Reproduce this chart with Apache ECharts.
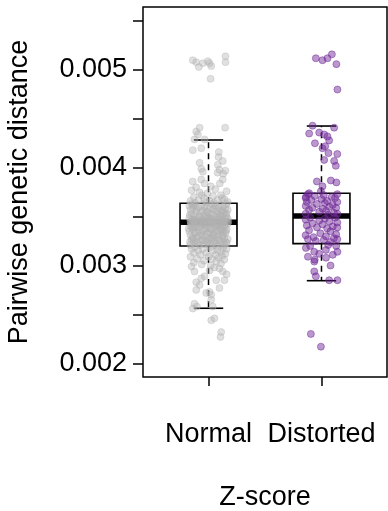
<!DOCTYPE html>
<html>
<head>
<meta charset="utf-8">
<script src="https://cdn.jsdelivr.net/npm/echarts@6.0.0/dist/echarts.min.js"></script>
<style>
html,body{margin:0;padding:0;background:#fff;}
#chart{width:388px;height:511px;}
</style>
</head>
<body>
<div id="chart"></div>
<script>
// ---- data ----
const categories = ['Normal', 'Distorted'];
const yTickValues = [0.002, 0.0025, 0.003, 0.0035, 0.004, 0.0045, 0.005, 0.0055];
const yLabelValues = [0.002, 0.003, 0.004, 0.005];
// [lower whisker, Q1, median, Q3, upper whisker]
const normalBox = [0.002563, 0.0032, 0.003442, 0.003637, 0.004284];
const distortedBox = [0.002845, 0.003224, 0.003507, 0.003739, 0.004427];
// [horizontal jitter (category units), value]
const normalPoints = [
[-0.139,0.00510],[-0.109,0.00508],[-0.086,0.00503],[-0.050,0.00507],[-0.006,0.00509],[0.009,0.00507],[0.024,0.00504],[0.150,0.00514],[0.150,0.00508],[0.018,0.00491],
[-0.079,0.00441],[0.147,0.00441],[-0.109,0.00437],[-0.094,0.00434],[-0.124,0.00429],[-0.035,0.00429],[-0.139,0.00418],[-0.064,0.00420],[0.091,0.00416],[0.088,0.00411],[-0.079,0.00405],[-0.064,0.00399],[0.082,0.00403],[0.126,0.00407],[0.150,0.00397],[0.097,0.00398],
[-0.050,0.00396],[0.080,0.00395],[0.130,0.00394],[-0.140,0.00386],[-0.065,0.00388],[-0.035,0.00384],[0.126,0.00388],[0.100,0.00384],[-0.150,0.00377],[-0.110,0.00380],[0.020,0.00381],[0.060,0.00378],[0.160,0.00376],[-0.080,0.00375],[-0.010,0.00374],[0.110,0.00372],[-0.130,0.00370],[0.040,0.00371],[-0.040,0.00369],[0.140,0.00368],[-0.160,0.00366],[-0.090,0.00367],[0.010,0.00366],[0.080,0.00367],[0.170,0.00365],[-0.120,0.00364],[-0.020,0.00365],[0.050,0.00364],[0.120,0.00369],[-0.060,0.00372],
[-0.15,0.00363],[-0.06,0.00362],[0.03,0.00363],[0.10,0.00362],[0.16,0.00363],
[-0.12,0.00361],[-0.02,0.00360],[0.06,0.00361],[0.13,0.00360],[-0.17,0.00361],
[-0.09,0.00359],[0.01,0.00358],[0.09,0.00359],[0.15,0.00358],[-0.14,0.00359],
[-0.16,0.00357],[-0.05,0.00356],[0.04,0.00357],[0.11,0.00356],[0.17,0.00357],
[-0.11,0.00355],[-0.01,0.00354],[0.07,0.00355],[0.14,0.00354],[-0.07,0.00355],
[-0.15,0.00353],[-0.04,0.00352],[0.02,0.00353],[0.10,0.00352],[0.16,0.00353],
[-0.13,0.00351],[-0.08,0.00350],[0.05,0.00351],[0.12,0.00350],[-0.01,0.00351],
[-0.17,0.00349],[-0.03,0.00349],[0.08,0.00350],[0.15,0.00349],[0.00,0.00348],
[-0.10,0.00348],[-0.06,0.00347],[0.03,0.00348],[0.11,0.00347],[0.17,0.00348],
[-0.14,0.00347],[0.00,0.00346],[0.06,0.00347],[0.13,0.00346],[-0.04,0.00346],
[-0.12,0.00346],[-0.08,0.00345],[0.02,0.00346],[0.09,0.00345],[0.16,0.00345],
[-0.16,0.00345],[-0.02,0.00344],[0.05,0.00345],[0.12,0.00344],[-0.09,0.00344],
[-0.13,0.00343],[-0.04,0.00342],[0.04,0.00343],[0.10,0.00342],[0.17,0.00343],
[-0.16,0.00341],[-0.07,0.00340],[0.01,0.00341],[0.08,0.00340],[0.14,0.00341],
[-0.11,0.00339],[-0.02,0.00338],[0.06,0.00339],[0.12,0.00338],[-0.15,0.00339],
[-0.14,0.00337],[-0.05,0.00336],[0.03,0.00337],[0.11,0.00336],[0.16,0.00337],
[-0.09,0.00335],[0.00,0.00334],[0.07,0.00335],[0.13,0.00334],[-0.17,0.00335],
[-0.12,0.00333],[-0.06,0.00332],[0.02,0.00333],[0.09,0.00332],[0.15,0.00333],
[-0.16,0.00331],[-0.03,0.00330],[0.05,0.00331],[0.12,0.00330],[-0.08,0.00331],
[-0.10,0.00329],[0.01,0.00328],[0.08,0.00329],[0.14,0.00328],[-0.14,0.00329],
[-0.15,0.00327],[-0.05,0.00326],[0.03,0.00327],[0.10,0.00326],[0.17,0.00327],
[-0.11,0.00325],[-0.01,0.00324],[0.06,0.00325],[0.13,0.00324],[-0.07,0.00325],
[-0.13,0.00323],[-0.04,0.00322],[0.04,0.00323],[0.11,0.00322],[0.16,0.00323],
[-0.16,0.00321],[-0.08,0.00321],[0.00,0.00321],[0.07,0.00320],[0.14,0.00321],
[-0.135,0.00362],[-0.035,0.00360],[0.045,0.00358],[0.125,0.00356],
[-0.105,0.00357],[-0.015,0.00355],[0.085,0.00353],[0.155,0.00351],
[-0.165,0.00352],[-0.075,0.00350],[0.015,0.00349],[0.095,0.00348],
[-0.125,0.00347],[-0.045,0.00346],[0.035,0.00345],[0.135,0.00344],
[-0.155,0.00344],[-0.065,0.00343],[0.025,0.00343],[0.075,0.00342],
[-0.105,0.00342],[-0.025,0.00341],[0.055,0.00340],[0.145,0.00340],
[-0.135,0.00340],[-0.085,0.00339],[0.015,0.00338],[0.105,0.00339],
[-0.175,0.00338],[-0.035,0.00337],[0.085,0.00336],[0.155,0.00335],
[-0.115,0.00334],[-0.015,0.00333],[0.045,0.00332],[0.125,0.00331],
[-0.055,0.00330],[0.035,0.00329],[-0.135,0.00327],[0.095,0.00326],
[-0.025,0.00325],[0.155,0.00324],[-0.095,0.00323],[0.065,0.00322],
[-0.165,0.00324],[0.005,0.00326],[-0.045,0.00344],[0.065,0.00344],
[-0.125,0.00345],[0.115,0.00346],[-0.005,0.00343],[0.175,0.00345],
[-0.095,0.003445],[0.005,0.003440],[0.105,0.003438],[-0.145,0.003442],[0.145,0.003447],[-0.055,0.003437],[0.045,0.003449],[0.025,0.003435],
[-0.12,0.00319],[0.02,0.00319],[0.13,0.00318],
[-0.15,0.00317],[-0.05,0.00317],[0.08,0.00316],[0.16,0.00317],
[-0.09,0.00315],[0.04,0.00315],[0.11,0.00314],
[-0.13,0.00313],[-0.02,0.00313],[0.15,0.00312],
[-0.07,0.00311],[0.06,0.00311],[0.12,0.00310],
[-0.16,0.00309],[0.00,0.00309],[0.09,0.00308],
[-0.10,0.00307],[0.03,0.00307],[0.14,0.00306],
[-0.04,0.00305],[0.07,0.00304],
[-0.13,0.00303],[0.11,0.00302],
[-0.06,0.00301],[0.02,0.00300],
[-0.15,0.00299],[0.05,0.00298],[0.16,0.00291],
[-0.124,0.00294],[0.009,0.00295],[0.097,0.00297],[0.126,0.00294],[-0.064,0.00287],[-0.035,0.00289],[-0.109,0.00283],[0.068,0.00285],[0.141,0.00285],[-0.079,0.00280],[-0.109,0.00275],[0.097,0.00277],[0.009,0.00273],[-0.020,0.00272],[0.024,0.00270],[0.024,0.00265],[-0.124,0.00261],[-0.103,0.00258],[-0.139,0.00256],[0.038,0.00258],
[0.024,0.00244],[0.053,0.00246],[0.112,0.00232],[0.106,0.00227]
];
const distortedPoints = [
[-0.050,0.00512],[0.009,0.00510],[0.053,0.00512],[0.092,0.00516],[0.132,0.00506],[0.141,0.00480],
[-0.079,0.00443],[0.112,0.00441],[-0.109,0.00435],[-0.020,0.00436],[0.024,0.00434],[0.053,0.00432],[0.068,0.00428],[-0.058,0.00425],[0.009,0.00420],[0.033,0.00422],[0.062,0.00415],[0.140,0.00414],[0.024,0.00408],[0.112,0.00407],[0.127,0.00402],[-0.041,0.00386],[0.083,0.00387],[0.132,0.00385],[0.009,0.00381],[-0.005,0.00376],[-0.109,0.00374],[-0.138,0.00370],
[-0.12,0.00373],[0.02,0.00372],[0.14,0.00373],
[-0.06,0.00371],[0.09,0.00370],
[-0.14,0.00369],[0.00,0.00368],[0.12,0.00369],
[-0.09,0.00367],[0.05,0.00366],
[-0.13,0.00365],[0.03,0.00364],[0.14,0.00365],
[-0.04,0.00363],[0.10,0.00362],
[-0.14,0.00361],[0.07,0.00360],
[-0.08,0.00359],[0.01,0.00358],[0.13,0.00359],
[-0.11,0.00357],[0.04,0.00356],
[-0.02,0.00355],[0.11,0.00354],
[-0.14,0.00353],[0.06,0.00352],[0.14,0.00353],
[-0.10,0.00349],[0.03,0.00348],[0.12,0.00349],
[-0.14,0.00347],[-0.02,0.00346],
[0.07,0.00345],[0.14,0.00344],
[-0.08,0.00343],[0.01,0.00342],
[-0.13,0.00341],[0.10,0.00340],
[-0.04,0.00339],[0.05,0.00338],[0.14,0.00339],
[-0.11,0.00336],[0.08,0.00335],
[-0.01,0.00333],[0.13,0.00332],
[-0.14,0.00331],[0.04,0.00330],
[-0.07,0.00329],[0.11,0.00328],
[-0.12,0.00327],[0.02,0.00326],[0.14,0.00327],
[-0.05,0.00325],[0.08,0.00324],
[-0.10,0.00320],[0.06,0.00321],[0.13,0.00320],
[-0.138,0.00318],[-0.064,0.00314],[0.039,0.00316],[0.141,0.00314],
[-0.02,0.00312],[0.10,0.00311],
[-0.12,0.00309],[0.04,0.00308],
[-0.06,0.00306],[-0.064,0.00304],[0.08,0.00300],
[-0.064,0.00294],[-0.050,0.00289],[0.068,0.00285],[0.141,0.00285],
[-0.094,0.00230],[-0.005,0.00217]
];

// ---- chart ----
const FONT = 'Liberation Sans, Arial, Helvetica, sans-serif';
const FS = 27;
const chart = echarts.init(document.getElementById('chart'), null, {renderer: 'canvas'});

const boxData = [[1].concat(normalBox), [2].concat(distortedBox)];
const HALF_BOX = 0.252, HALF_CAP = 0.13;

function renderBox(params, api) {
  const x = api.value(0);
  const lw = api.value(1), q1 = api.value(2), med = api.value(3), q3 = api.value(4), uw = api.value(5);
  const c = (a, b) => api.coord([a, b]);
  const tl = c(x - HALF_BOX, q3), br = c(x + HALF_BOX, q1);
  const line = (p1, p2, w, dash) => ({
    type: 'line',
    shape: {x1: p1[0], y1: p1[1], x2: p2[0], y2: p2[1]},
    style: {stroke: '#000', lineWidth: w, lineDash: dash || null, lineCap: 'butt'}
  });
  return {
    type: 'group',
    children: [
      line(c(x, q3), c(x, uw), 1.5, [6, 5]),
      line(c(x, q1), c(x, lw), 1.5, [6, 5]),
      line(c(x - HALF_CAP, uw), c(x + HALF_CAP, uw), 1.6),
      line(c(x - HALF_CAP, lw), c(x + HALF_CAP, lw), 1.6),
      {type: 'rect', shape: {x: tl[0], y: tl[1], width: br[0] - tl[0], height: br[1] - tl[1]},
       style: {fill: 'rgba(0,0,0,0)', stroke: '#000', lineWidth: 1.6}},
      line(c(x - HALF_BOX, med), c(x + HALF_BOX, med), 5.5)
    ]
  };
}

const option = {
  animation: false,
  backgroundColor: '#fff',
  grid: {left: 143, right: 1, top: 7, bottom: 134, containLabel: false, outerBoundsMode: 'none',
         show: true, borderColor: '#000', borderWidth: 1.5, backgroundColor: 'transparent'},
  xAxis: {
    type: 'value', min: 0.42, max: 2.58,
    splitLine: {show: false},
    axisLine: {show: false},
    axisTick: {show: true, customValues: [1, 2], length: 9, lineStyle: {color: '#000', width: 1.5}},
    axisLabel: {customValues: [1, 2], formatter: v => categories[Math.round(v) - 1], margin: 44, fontSize: FS, color: '#000', fontFamily: FONT},
    name: 'Z-score', nameLocation: 'middle', nameGap: 107,
    nameTextStyle: {fontSize: FS, color: '#000', fontFamily: FONT}
  },
  yAxis: {
    type: 'value', min: 0.0018599, max: 0.0056443,
    splitLine: {show: false},
    axisLine: {show: false},
    axisTick: {show: true, customValues: yTickValues, length: 10, lineStyle: {color: '#000', width: 1.5}},
    axisLabel: {customValues: yLabelValues, formatter: v => v.toFixed(3), margin: 16, fontSize: FS, color: '#000', fontFamily: FONT},
    name: 'Pairwise genetic distance', nameLocation: 'middle', nameGap: 110,
    nameTextStyle: {fontSize: FS, color: '#000', fontFamily: FONT}
  },
  series: [
    {type: 'custom', z: 2, renderItem: renderBox, data: boxData, silent: true},
    {type: 'scatter', z: 3, symbol: 'circle', symbolSize: 7,
     data: normalPoints.map(p => [1 + p[0], p[1]]),
     itemStyle: {color: 'rgba(178,178,178,0.5)', borderColor: 'rgba(178,178,178,0.45)', borderWidth: 1}},
    {type: 'scatter', z: 3, symbol: 'circle', symbolSize: 7,
     data: distortedPoints.map(p => [2 + p[0], p[1]]),
     itemStyle: {color: 'rgba(110,40,150,0.6)', borderColor: 'rgba(110,40,150,0.6)', borderWidth: 1}}
  ]
};
chart.setOption(option);
</script>
</body>
</html>
